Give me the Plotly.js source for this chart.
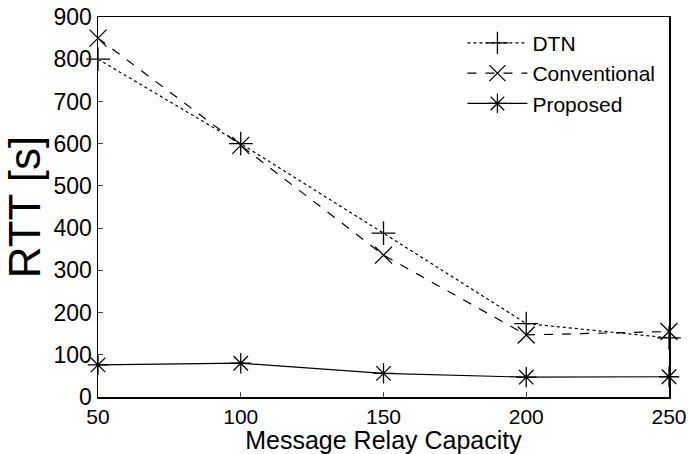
<!DOCTYPE html>
<html>
<head>
<meta charset="utf-8">
<script src="https://cdn.plot.ly/plotly-3.0.1.min.js"></script>
<style>html,body{margin:0;padding:0;background:#fff;}#chart{width:688px;height:454px;}</style>
</head>
<body>
<div id="chart"></div>
<script>
var capacity = [50, 100, 150, 200, 250];
var dtnRTT = [800, 600, 388, 174, 140];
var conventionalRTT = [850, 596, 336, 147, 155];
var proposedRTT = [76, 80, 56, 47, 48];
var xTickVals = [50, 100, 150, 200, 250];
var yTickVals = [0, 100, 200, 300, 400, 500, 600, 700, 800, 900];

var FONT = '"Liberation Sans", Arial, sans-serif';

function series(name, y, dash, symbol) {
  return {
    x: capacity, y: y, name: name, type: 'scatter', mode: 'lines+markers',
    cliponaxis: false,
    line: {color: '#000', width: 1.2, dash: dash},
    marker: {symbol: symbol, size: 17, color: '#000', line: {color: '#000', width: 1.3}}
  };
}

var data = [
  series('DTN', dtnRTT, 'dot', 'cross-thin-open'),
  series('Conventional', conventionalRTT, 'dash', 'x-thin-open'),
  series('Proposed', proposedRTT, 'solid', 'asterisk-open')
];

var layout = {
  width: 688, height: 454,
  margin: {l: 98, r: 19, t: 17, b: 57},
  paper_bgcolor: '#fff', plot_bgcolor: '#fff',
  font: {family: FONT, color: '#000'},
  showlegend: true,
  legend: {
    x: 0.985, xanchor: 'right', y: 0.985, yanchor: 'top',
    bgcolor: 'rgba(0,0,0,0)', font: {size: 21, family: FONT},
    itemwidth: 60, tracegroupgap: 0
  },
  xaxis: {
    range: [50, 250], tickvals: xTickVals, ticks: 'inside', ticklen: 5,
    tickfont: {size: 21, family: FONT}, ticklabeloverflow: 'allow',
    showgrid: false, zeroline: false, showline: true, mirror: true,
    linecolor: '#000', linewidth: 1.5,
    title: {text: 'Message Relay Capacity', font: {size: 25, family: FONT}, standoff: 0}
  },
  yaxis: {
    range: [0, 900], tickvals: yTickVals, ticks: 'inside', ticklen: 5,
    tickfont: {size: 23, family: FONT},
    showgrid: false, zeroline: false, showline: true, mirror: true,
    linecolor: '#000', linewidth: 1.5,
    title: {text: 'RTT [s]', font: {size: 44, family: FONT}, standoff: 4}
  }
};

Plotly.newPlot('chart', data, layout, {displayModeBar: false, staticPlot: true});
</script>
</body>
</html>
